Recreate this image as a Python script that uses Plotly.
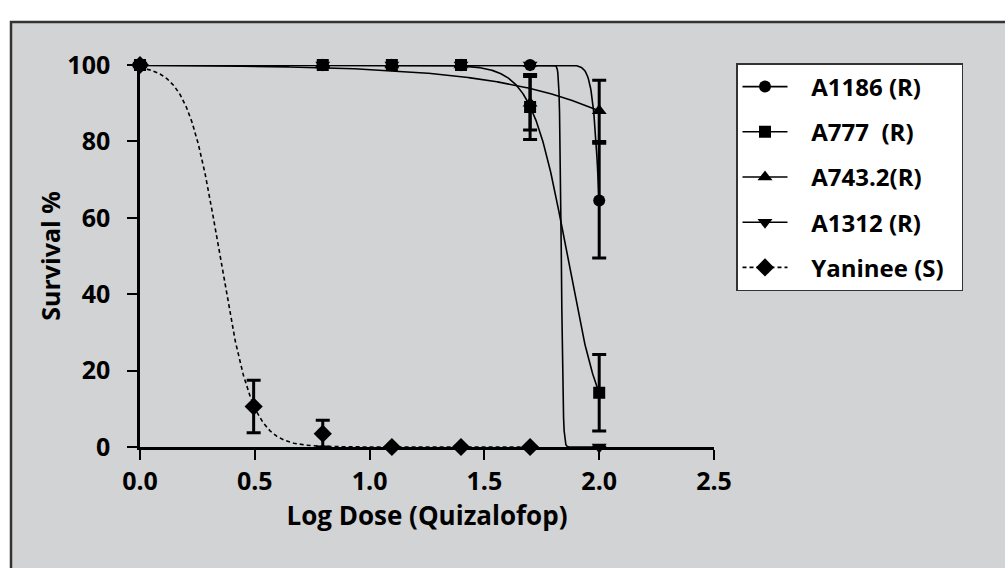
import numpy as np
import plotly.graph_objects as go

# ---------------- data ----------------
log_dose_R = [0.0, 0.796, 1.097, 1.398, 1.699, 2.0]
log_dose_S = [0.0, 0.495, 0.796, 1.097, 1.398, 1.699]

series_names = ["A1186 (R)", "A777  (R)", "A743.2(R)", "A1312 (R)", "Yaninee (S)"]

a1186_mean = [100, 100, 100, 100, 100, 64.5]
a1186_err = [0, 0, 0, 0, 0, 15]
a777_mean = [100, 100, 100, 100, 89, 14.2]
a777_err = [0, 0, 0, 0, 8.5, 10]
a743_mean = [100, 100, 100, 100, 90, 88]
a743_err = [0, 0, 0, 0, 7, 8]
a1312_mean = [100, 100, 100, 100, 100, 0]
a1312_err = [0, 0, 0, 0, 0, 0]
yan_mean = [100, 10.6, 3.5, 0, 0, 0]
yan_err = [0, 6.9, 3.5, 0, 0, 0]

# fitted dose-response parameters (top, bottom, logEC50, hill slope)
fit_a1186 = (100, 0, 2.01, 25)
fit_a777 = (100, 0, 1.861, 5.65)
fit_a743 = (100, 0, 2.816, 1.06)
fit_a1312 = (100, 0, 1.835, 110)
fit_yan = (100, 0, 0.348, 6.2)

x_ticks = [0.0, 0.5, 1.0, 1.5, 2.0, 2.5]
y_ticks = [0, 20, 40, 60, 80, 100]

# ---------------- helpers ----------------
FONT = "Open Sans"
NB = "\u00a0"


def curve(params, x0, x1):
    top, bottom, c, h = params
    xs = np.linspace(x0, x1, 800)
    ys = bottom + (top - bottom) / (1 + 10 ** ((xs - c) * h))
    return xs, ys


series = [
    (series_names[0], log_dose_R, a1186_mean, a1186_err, fit_a1186, "circle", 12, "solid"),
    (series_names[1], log_dose_R, a777_mean, a777_err, fit_a777, "square", 12, "solid"),
    (series_names[2], log_dose_R, a743_mean, a743_err, fit_a743, "triangle-up", 13, "solid"),
    (series_names[3], log_dose_R, a1312_mean, a1312_err, fit_a1312, "triangle-down", 13, "solid"),
    (series_names[4], log_dose_S, yan_mean, yan_err, fit_yan, "diamond", 14, "4px,3px"),
]

fig = go.Figure()

# fitted curves
for name, xd, yd, ed, fit, sym, sz, dash in series:
    xs, ys = curve(fit, min(xd), max(xd))
    fig.add_trace(go.Scatter(
        x=xs, y=ys, mode="lines", showlegend=False, legendgroup=name,
        line=dict(color="black", width=1.6, dash=dash), hoverinfo="skip",
        cliponaxis=False))

# data points with error bars (draw order so squares end on top)
for idx in [0, 2, 3, 4, 1]:
    name, xd, yd, ed, fit, sym, sz, dash = series[idx]
    fig.add_trace(go.Scatter(
        x=xd, y=yd, mode="markers", showlegend=False, legendgroup=name,
        marker=dict(symbol=sym, size=sz, color="black", line=dict(width=0)),
        error_y=dict(type="data", array=ed, visible=True, color="black",
                     thickness=3, width=7),
        cliponaxis=False))

# legend entries (line + marker)
for name, xd, yd, ed, fit, sym, sz, dash in series:
    fig.add_trace(go.Scatter(
        x=[None], y=[None], mode="lines+markers",
        name=NB * 3 + name.replace(" ", NB) + NB * 2, legendgroup=name,
        line=dict(color="black", width=1.6, dash=dash),
        marker=dict(symbol=sym, size=sz, color="black")))

# plot geometry in pixels
W, H = 1005, 568
L, R, T, B = 140, 714, 65, 447


def px2paper_x(px):
    return (px - L) / (R - L)


def px2paper_y(py):
    return (B - py) / (B - T)


fig.add_shape(type="rect", xref="paper", yref="paper", layer="below",
              x0=px2paper_x(11), x1=px2paper_x(1030),
              y0=px2paper_y(600), y1=px2paper_y(22),
              fillcolor="#D1D3D4", line=dict(color="#333333", width=2.5))

fig.update_layout(
    width=W, height=H, autosize=False,
    margin=dict(l=L, r=W - R, t=T, b=H - B, pad=0),
    paper_bgcolor="white", plot_bgcolor="white",
    font=dict(family=FONT, color="black", size=25, weight=700),
    showlegend=True,
    legend=dict(x=px2paper_x(736), y=px2paper_y(63), xanchor="left", yanchor="top",
                bgcolor="white", bordercolor="#333333", borderwidth=1.5,
                font=dict(family=FONT, size=24, color="black", weight=700),
                itemwidth=45, tracegroupgap=11, traceorder="grouped"),
    xaxis=dict(range=[0, 2.5], tickvals=x_ticks, ticktext=[f"{v:.1f}" for v in x_ticks],
               showgrid=False, zeroline=False, showline=True, linecolor="black",
               linewidth=2.5, ticks="outside", ticklen=10, tickwidth=2,
               tickcolor="black", ticklabelstandoff=0,
               tickfont=dict(family=FONT, size=25, weight=700),
               title=dict(text="Log Dose (Quizalofop)", standoff=6,
                          font=dict(family=FONT, size=26, weight=700))),
    yaxis=dict(range=[0, 100], tickvals=y_ticks,
               showgrid=False, zeroline=False, showline=True, linecolor="black",
               linewidth=2.5, ticks="outside", ticklen=10, tickwidth=2,
               tickcolor="black", ticklabelstandoff=12,
               tickfont=dict(family=FONT, size=25, weight=700),
               title=dict(text="Survival %", standoff=0,
                          font=dict(family=FONT, size=25, weight=700))),
)

fig.write_html("out.html", config={"displayModeBar": False},
               post_script="document.body.style.margin='0px';")
